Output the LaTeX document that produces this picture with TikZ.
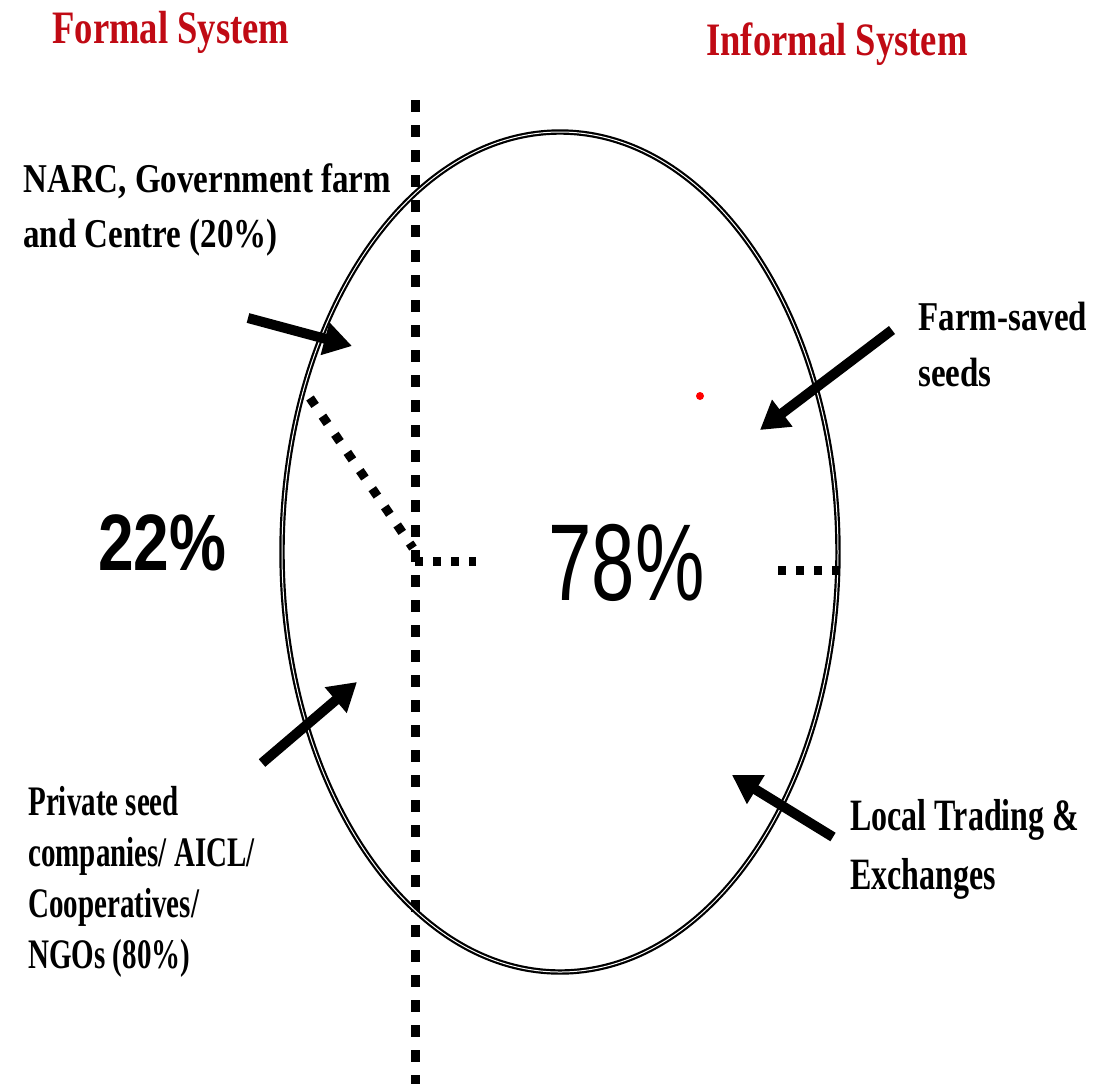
\documentclass[tikz,border=0pt]{standalone}
\usepackage{graphicx}
\usepackage{fontspec}
\setmainfont{Liberation Serif}
\newfontfamily\arialfont{Liberation Sans}
\usetikzlibrary{arrows.meta,shapes.geometric}
\definecolor{titlered}{RGB}{192,10,20}
\newcommand{\vstretch}[2]{\scalebox{1}[#1]{\begin{tabular}[t]{@{}l@{}}#2\end{tabular}}}
\tikzset{
  lbl/.style={inner sep=0pt, anchor=base west, font=\bfseries},
  sysname/.style={inner sep=0pt, anchor=base, text=titlered, font=\bfseries\fontsize{18.3}{22}\selectfont},
  fatarrow/.style={line width=5pt, -{Triangle[length=14pt,width=16pt]}},
  bigdots/.style={line width=4.5pt, dash pattern=on 6pt off 6.5pt},
  smalldots/.style={line width=4.5pt, dash pattern=on 4.5pt off 6.5pt},
  shortdots/.style={line width=4.5pt, dash pattern=on 4pt off 5pt},
}
\begin{document}
\begin{tikzpicture}[x=0.5pt,y=-0.5pt]
\useasboundingbox (0,0) rectangle (1109,1084);
% the two systems
\node[sysname] (formal) at (171,43) {\scalebox{1}[1.27]{Formal System}};
\node[sysname] (informal) at (837,55) {\scalebox{1}[1.27]{Informal System}};

\draw[bigdots] (415,100) -- (415,1084);
\node[draw, double, line width=1.1pt, double distance=.5pt, ellipse,
  minimum width=278pt, minimum height=420pt] (seed) at (560,552) {};

% split lines
\coordinate (cut) at (310,398);
\coordinate (hub) at (413,548);
\draw[smalldots] (cut) -- (hub);
\draw[shortdots] (415,561) -- (476,561);
\draw[shortdots] (778,570) -- (842,570);

\node[lbl, font=\arialfont\bfseries] (formalshare) at (98,570) {\fontsize{32}{38}\selectfont\scalebox{1}[1.25]{22\%}};
\node[lbl, font=\arialfont] (informalshare) at (548,600) {\fontsize{39}{46}\selectfont\scalebox{1}[1.4]{78\%}};
\fill[red] (700,396) circle (4);

% sources
\node[lbl] (narc) at (23,192) {\fontsize{16.5}{22.2}\selectfont\vstretch{1.24}{NARC, Government farm\\and Centre (20\%)}};
\node[lbl] (saved) at (918,330) {\fontsize{16.5}{22.6}\selectfont\vstretch{1.24}{Farm-saved\\seeds}};
\node[lbl] (private) at (28,815) {\fontsize{14.5}{17.6}\selectfont\vstretch{1.45}{Private seed\\companies/ AICL/\\Cooperatives/\\NGOs (80\%)}};
\node[lbl] (trade) at (850,830) {\fontsize{16}{21.4}\selectfont\vstretch{1.4}{Local Trading \&\\Exchanges}};

\coordinate (narcfrom) at (248,318);   \coordinate (narcto) at (352,346);
\coordinate (savedfrom) at (892,330);  \coordinate (savedto) at (760,430);
\coordinate (privfrom) at (262,763);   \coordinate (privto) at (357,682);
\coordinate (tradefrom) at (833,837);  \coordinate (tradeto) at (732,775);
\draw[fatarrow] (narcfrom) -- (narcto);
\draw[fatarrow] (savedfrom) -- (savedto);
\draw[fatarrow] (privfrom) -- (privto);
\draw[fatarrow] (tradefrom) -- (tradeto);
\end{tikzpicture}
\end{document}
